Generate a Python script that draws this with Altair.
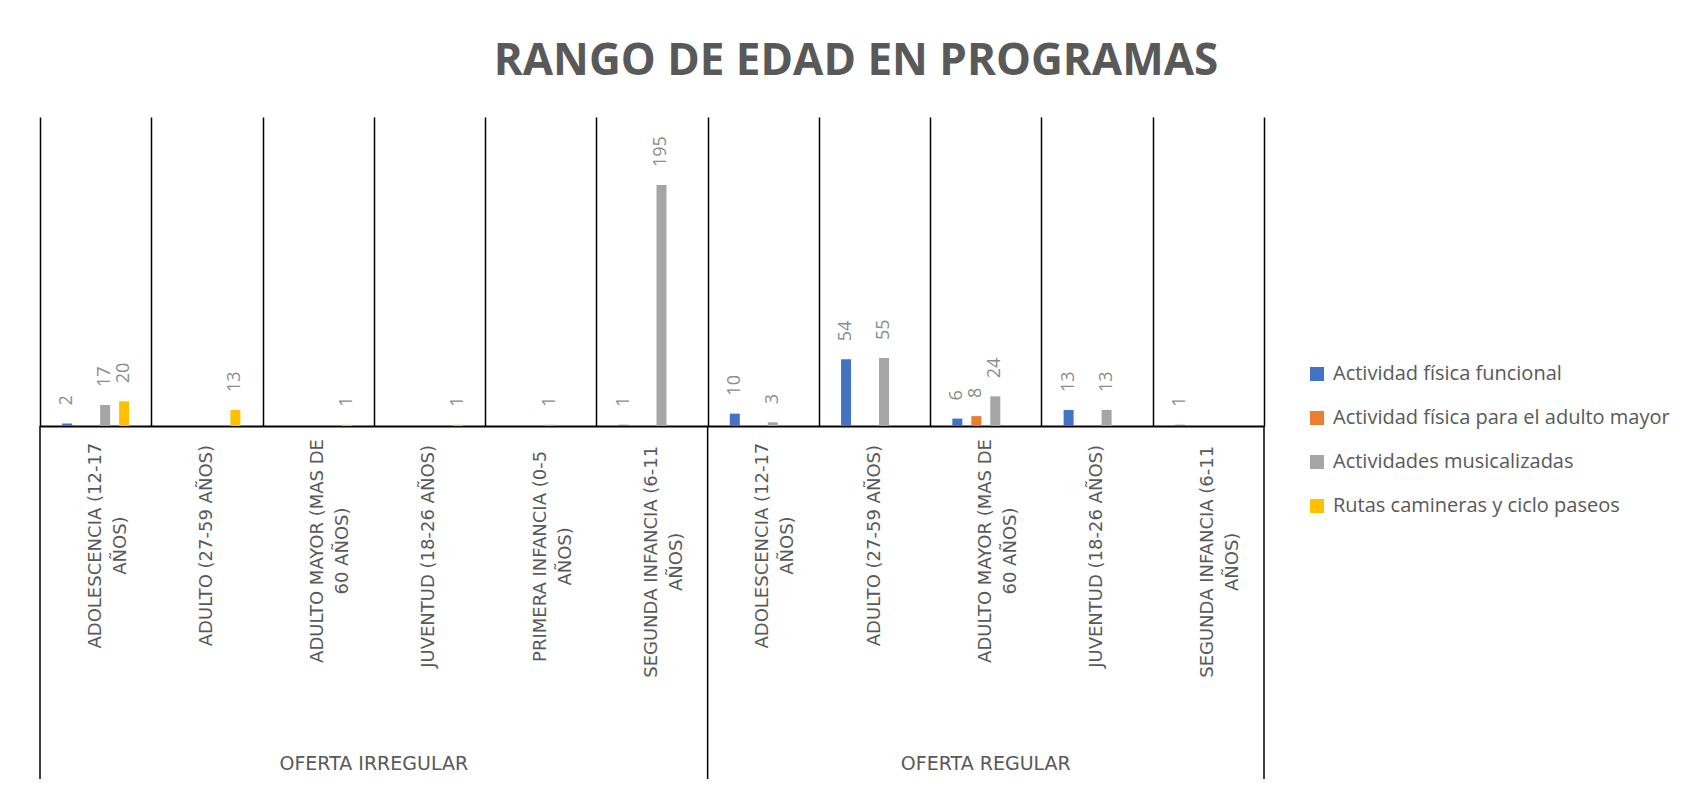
import altair as alt
import pandas as pd

title_text = "RANGO DE EDAD EN PROGRAMAS"

groups = ["OFERTA IRREGULAR"] * 6 + ["OFERTA REGULAR"] * 5
categories = [
    "ADOLESCENCIA (12-17\nAÑOS)",
    "ADULTO (27-59 AÑOS)",
    "ADULTO MAYOR (MAS DE\n60 AÑOS)",
    "JUVENTUD (18-26 AÑOS)",
    "PRIMERA INFANCIA (0-5\nAÑOS)",
    "SEGUNDA INFANCIA (6-11\nAÑOS)",
    "ADOLESCENCIA (12-17\nAÑOS)",
    "ADULTO (27-59 AÑOS)",
    "ADULTO MAYOR (MAS DE\n60 AÑOS)",
    "JUVENTUD (18-26 AÑOS)",
    "SEGUNDA INFANCIA (6-11\nAÑOS)",
]

series_names = [
    "Actividad física funcional",
    "Actividad física para el adulto mayor",
    "Actividades musicalizadas",
    "Rutas camineras y ciclo paseos",
]
series_colors = ["#4472C4", "#ED7D31", "#A5A5A5", "#FFC000"]

funcional = [2, None, None, None, None, 1, 10, 54, 6, 13, 1]
adulto_mayor = [None, None, None, None, None, None, None, None, 8, None, None]
musicalizadas = [17, None, None, None, 1, 195, 3, 55, 24, 13, None]
rutas = [20, 13, 1, 1, None, None, None, None, None, None, None]

y_max = 250

W, H = 1224, 309
PX = y_max / H  # data units per pixel

keys = [f"{g}|{c}" for g, c in zip(groups, categories)]

rows = []
for sname, vals in zip(series_names, [funcional, adulto_mayor, musicalizadas, rutas]):
    for k, v in zip(keys, vals):
        if v is not None:
            rows.append({"key": k, "series": sname, "value": v})
bars_df = pd.DataFrame(rows)

cat_df = pd.DataFrame({"key": keys, "label": categories, "group": groups})

# group boundaries and group label anchors
grp_order = list(dict.fromkeys(groups))
starts, even_mid, odd_mid = [], [], []
for g in grp_order:
    ks = [k for k, gg in zip(keys, groups) if gg == g]
    starts.append({"key": ks[0]})
    n = len(ks)
    if n % 2 == 0:
        even_mid.append({"key": ks[n // 2 - 1], "group": g})
    else:
        odd_mid.append({"key": ks[(n - 1) // 2], "group": g})
starts_df = pd.DataFrame(starts)
end_df = pd.DataFrame([{"key": keys[-1]}])
even_df = pd.DataFrame(even_mid)
odd_df = pd.DataFrame(odd_mid)

x_scale = alt.Scale(domain=keys, paddingInner=0, paddingOuter=0)
x_axis = alt.Axis(
    title=None, labels=False, ticks=False, grid=True, tickBand="extent",
    gridColor="#000000", gridWidth=1.5, domainColor="#000000", domainWidth=2,
)
y_enc = alt.Y("value:Q", scale=alt.Scale(domain=[0, y_max]), axis=None)

def xk(**kw):
    return alt.X("key:N", scale=x_scale, axis=x_axis, **kw)

xoff = alt.XOffset(
    "series:N", scale=alt.Scale(domain=series_names, paddingInner=0, paddingOuter=0.93)
)

bars = alt.Chart(bars_df).mark_bar(size=10).encode(
    x=xk(),
    xOffset=xoff,
    y=y_enc,
    color=alt.Color(
        "series:N",
        scale=alt.Scale(domain=series_names, range=series_colors),
        legend=alt.Legend(
            title=None, orient="none", legendX=1267, legendY=247,
            symbolType="square", symbolSize=196, symbolStrokeWidth=0,
            labelFontSize=20, labelFont="Open Sans", labelColor="#595959",
            rowPadding=24, labelOffset=6, padding=0, labelLimit=500,
        ),
    ),
)

bar_labels = alt.Chart(bars_df).mark_text(
    angle=270, align="left", baseline="middle", dx=18,
    fontSize=18, font="Open Sans", color="#8c8c8c",
).encode(x=xk(), xOffset=xoff, y=y_enc, text=alt.Text("value:Q"))

cat_labels = alt.Chart(cat_df).transform_calculate(
    n="max(length(split(datum.label, '\\n')[0]), length(peek(split(datum.label, '\\n'))))"
).transform_calculate(
    value=f"-(17 + 10.8 * datum.n / 2) * {PX}"
).mark_text(
    angle=270, align="center", baseline="middle", lineBreak="\n",
    fontSize=18, font="DejaVu Sans", color="#595959", lineHeight=25,
).encode(x=xk(), y=y_enc, text="label:N")

sep_start = alt.Chart(starts_df).mark_rule(color="#000000", strokeWidth=1.5).encode(
    x=xk(bandPosition=0), y=alt.value(H), y2=alt.value(H + 353)
)
sep_end = alt.Chart(end_df).mark_rule(color="#000000", strokeWidth=1.5).encode(
    x=xk(bandPosition=1), y=alt.value(H), y2=alt.value(H + 353)
)

grp_style = dict(fontSize=19, font="DejaVu Sans", color="#595959", baseline="middle", align="center")
grp_even = alt.Chart(even_df).mark_text(**grp_style).encode(
    x=xk(bandPosition=1), y=alt.value(H + 338), text="group:N"
)
grp_odd = alt.Chart(odd_df).mark_text(**grp_style).encode(
    x=xk(bandPosition=0.5), y=alt.value(H + 338), text="group:N"
)

chart = alt.layer(
    bars, bar_labels, cat_labels, sep_start, sep_end, grp_even, grp_odd
).properties(
    width=W, height=H,
    background="white",
    padding={"left": 32, "top": 109, "right": 420, "bottom": 360},
    autosize=alt.AutoSizeParams(type="none"),
    title=alt.TitleParams(
        title_text, fontSize=44, font="Open Sans", fontWeight="bold",
        color="#595959", anchor="middle", frame="group", dx=204, offset=-2,
        baseline="alphabetic",
    ),
).configure_view(stroke=None)

chart.save("out.html", embed_options={"renderer": "svg", "actions": False})
